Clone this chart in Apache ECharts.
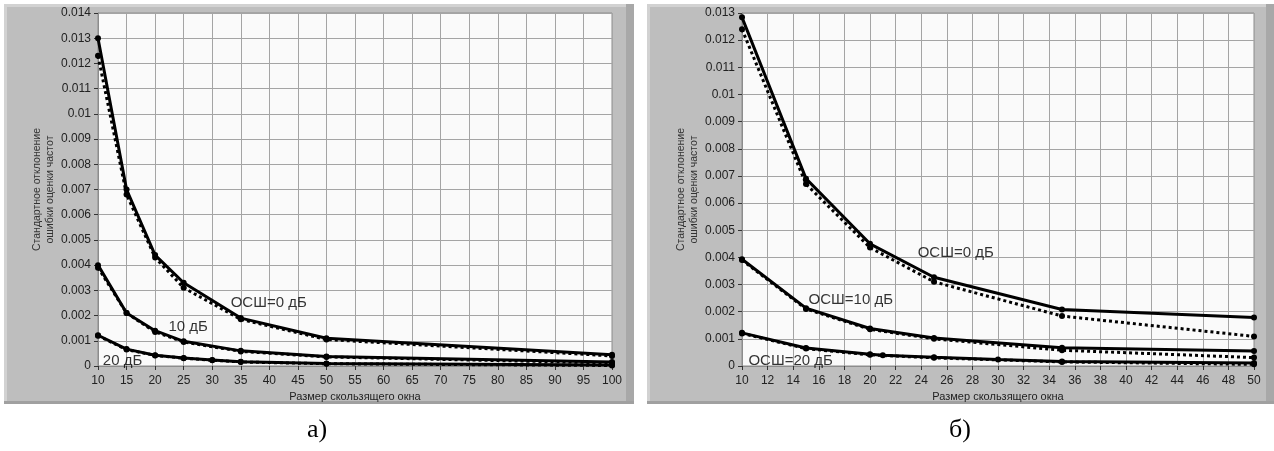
<!DOCTYPE html>
<html>
<head>
<meta charset="utf-8">
<script src="https://cdn.jsdelivr.net/npm/echarts@6/dist/echarts.min.js"></script>
<style>
  html, body { margin: 0; padding: 0; background: #ffffff; }
  #chart { width: 1274px; height: 451px; }
</style>
</head>
<body>
<div id="chart"></div>
<script>
// ---- а) window sizes 10..100 ----
const xA = [10, 15, 20, 25, 35, 50, 100];
const a0Solid  = [0.0130, 0.0070, 0.0044, 0.0033, 0.0019, 0.0011, 0.00045];
const a0Dotted = [0.0123, 0.0068, 0.0043, 0.0031, 0.00185, 0.00105, 0.0004];
const a10Solid  = [0.0040, 0.0021, 0.0014, 0.00098, 0.0006, 0.00038, 0.00016];
const a10Dotted = [0.0039, 0.0021, 0.00135, 0.00095, 0.00058, 0.00036, 0.00012];
const xA20 = [10, 15, 20, 25, 30, 35, 50, 100];
const a20Solid  = [0.00122, 0.00067, 0.00043, 0.00032, 0.00024, 0.00017, 0.0001, 0.00004];
const a20Dotted = [0.0012, 0.00065, 0.00042, 0.00031, 0.00023, 0.00016, 0.00009, 0.00002];

// ---- б) window sizes 10..50 ----
const xB = [10, 15, 20, 25, 35, 50];
const b0Solid  = [0.01284, 0.0069, 0.0045, 0.00327, 0.00208, 0.00179];
const b0Dotted = [0.0124, 0.0067, 0.00436, 0.0031, 0.00184, 0.00109];
const b10Solid  = [0.00393, 0.00213, 0.00138, 0.00103, 0.00067, 0.00055];
const b10Dotted = [0.0039, 0.0021, 0.00135, 0.001, 0.00058, 0.00031];
const xB20 = [10, 15, 20, 21, 25, 30, 35, 50];
const b20Solid  = [0.00122, 0.00066, 0.00043, 0.0004, 0.00032, 0.00024, 0.00017, 0.00011];
const xB20d = [10, 15, 20, 25, 35, 50];
const b20Dotted = [0.0012, 0.00064, 0.00041, 0.0003, 0.00015, 0.00006];

// curve annotations: [x, y, text]
const notesA = [[39.9, 0.0025, 'ОСШ=0 дБ'], [25.8, 0.00154, '10 дБ'], [14.3, 0.0002, '20 дБ']];
const notesB = [[26.7, 0.00418, 'ОСШ=0 дБ'], [18.5, 0.00243, 'ОСШ=10 дБ'], [13.8, 0.00019, 'ОСШ=20 дБ']];

const yTitle = 'Стандартное отклонение\nошибки оценки частот';
const xTitle = 'Размер скользящего окна';
const captions = ['а)', 'б)'];

const zip = (xs, ys) => xs.map((x, i) => [x, ys[i]]);
const fmtY = v => String(parseFloat(v.toFixed(3)));
const sans = 'Liberation Sans';

function xAxisDef(gi, min, max, step) {
  return {
    type: 'value', gridIndex: gi, min: min, max: max, interval: step,
    name: xTitle, nameLocation: 'middle', nameGap: 25,
    nameTextStyle: { fontFamily: sans, fontSize: 11, color: '#222' },
    axisLine: { show: true, lineStyle: { color: '#8c8c8c' } },
    axisTick: { show: true, length: 4, lineStyle: { color: '#333' } },
    axisLabel: { fontFamily: sans, fontSize: 12, color: '#222', margin: 9 },
    splitLine: { show: true, lineStyle: { color: '#a4a4a4', width: 1 } }
  };
}
function yAxisDef(gi, max) {
  return {
    type: 'value', gridIndex: gi, min: 0, max: max, interval: 0.001,
    name: yTitle, nameLocation: 'middle', nameRotate: 90, nameGap: 40,
    nameTextStyle: { fontFamily: sans, fontSize: 10.5, color: '#333', lineHeight: 13 },
    axisLine: { show: true, lineStyle: { color: '#8c8c8c' } },
    axisTick: { show: true, length: 4, lineStyle: { color: '#333' } },
    axisLabel: { fontFamily: sans, fontSize: 12, color: '#222', margin: 7, formatter: fmtY },
    splitLine: { show: true, lineStyle: { color: '#a4a4a4', width: 1 } }
  };
}
function lineSeries(gi, data, dotted) {
  return {
    type: 'line', xAxisIndex: gi, yAxisIndex: gi, data: data,
    symbol: 'circle', symbolSize: 6, showSymbol: true,
    itemStyle: { color: '#000' },
    lineStyle: { color: '#000', width: 3, type: dotted ? [3, 3] : 'solid' },
    z: dotted ? 2 : 3, animation: false, silent: true
  };
}
function noteSeries(gi, notes) {
  return {
    type: 'scatter', xAxisIndex: gi, yAxisIndex: gi, symbolSize: 0,
    data: notes.map(n => ({ value: [n[0], n[1]], name: n[2] })),
    label: { show: true, position: 'inside', formatter: p => p.name,
             fontFamily: sans, fontSize: 15, color: '#000' },
    z: 5, animation: false, silent: true
  };
}

// gray instrument panels behind each plot
function panel(x, w) {
  return [
    { type: 'rect', shape: { x: x, y: 4, width: w, height: 400 }, style: { fill: '#bebebe' }, z: -10 },
    { type: 'rect', shape: { x: x, y: 4, width: w, height: 3 }, style: { fill: '#d2d2d2' }, z: -9 },
    { type: 'rect', shape: { x: x, y: 4, width: 3, height: 400 }, style: { fill: '#d2d2d2' }, z: -9 },
    { type: 'rect', shape: { x: x + w - 8, y: 4, width: 8, height: 400 }, style: { fill: '#a8a8a8' }, z: -9 },
    { type: 'rect', shape: { x: x, y: 401, width: w, height: 3 }, style: { fill: '#a0a0a0' }, z: -9 }
  ];
}

const chart = echarts.init(document.getElementById('chart'), null, { renderer: 'canvas' });
chart.setOption({
  backgroundColor: '#ffffff',
  animation: false,
  title: [
    { text: captions[0], left: 302, top: 412, textStyle: { fontFamily: 'Liberation Serif', fontSize: 26, fontWeight: 'normal', color: '#000' } },
    { text: captions[1], left: 944, top: 412, textStyle: { fontFamily: 'Liberation Serif', fontSize: 26, fontWeight: 'normal', color: '#000' } }
  ],
  graphic: panel(4, 630).concat(panel(647, 627)),
  grid: [
    { left: 98, top: 13, width: 514, height: 353, show: true, backgroundColor: '#fafafa', borderColor: '#8c8c8c', borderWidth: 1 },
    { left: 742, top: 13, width: 512, height: 353, show: true, backgroundColor: '#fafafa', borderColor: '#8c8c8c', borderWidth: 1 }
  ],
  xAxis: [xAxisDef(0, 10, 100, 5), xAxisDef(1, 10, 50, 2)],
  yAxis: [yAxisDef(0, 0.014), yAxisDef(1, 0.013)],
  series: [
    lineSeries(0, zip(xA, a0Dotted), true),
    lineSeries(0, zip(xA, a0Solid), false),
    lineSeries(0, zip(xA, a10Dotted), true),
    lineSeries(0, zip(xA, a10Solid), false),
    lineSeries(0, zip(xA20, a20Dotted), true),
    lineSeries(0, zip(xA20, a20Solid), false),
    noteSeries(0, notesA),
    lineSeries(1, zip(xB, b0Dotted), true),
    lineSeries(1, zip(xB, b0Solid), false),
    lineSeries(1, zip(xB, b10Dotted), true),
    lineSeries(1, zip(xB, b10Solid), false),
    lineSeries(1, zip(xB20d, b20Dotted), true),
    lineSeries(1, zip(xB20, b20Solid), false),
    noteSeries(1, notesB)
  ]
});
</script>
</body>
</html>
